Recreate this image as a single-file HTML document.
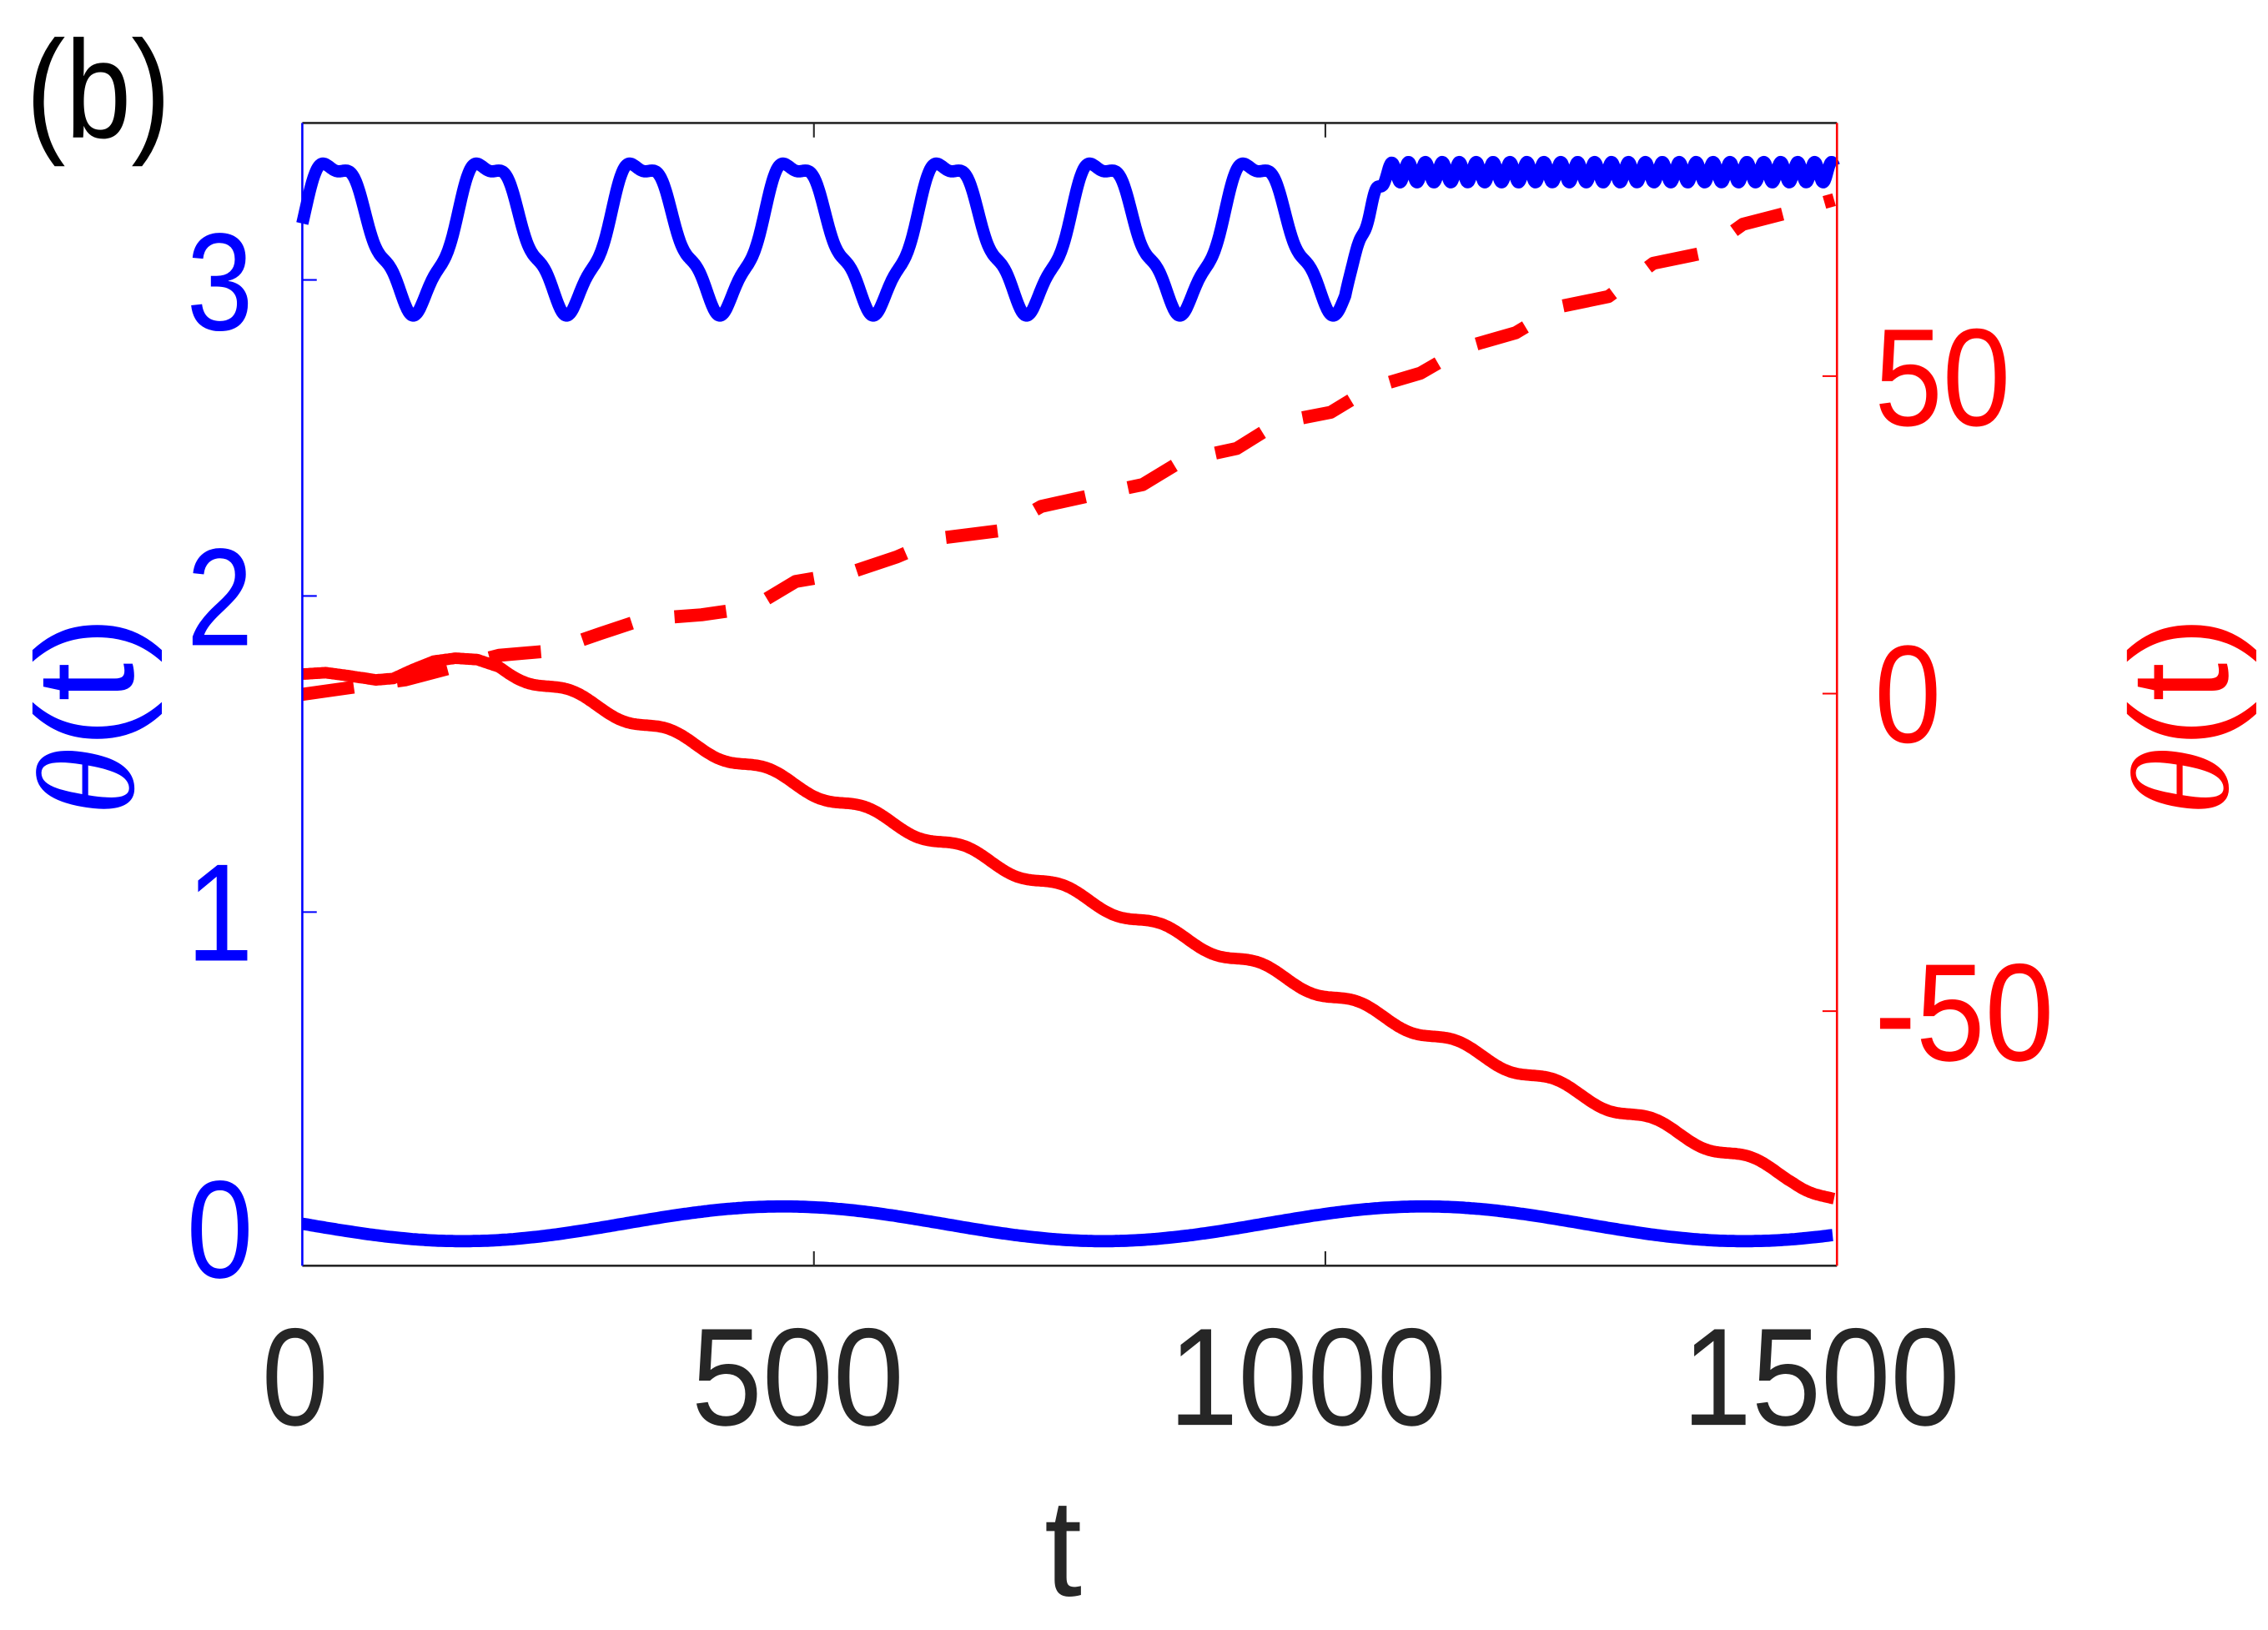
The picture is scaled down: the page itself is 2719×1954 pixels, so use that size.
<!DOCTYPE html>
<html><head><meta charset="utf-8"><style>
html,body{margin:0;padding:0;background:#fff;}
svg{display:block;}
text{font-family:"Liberation Sans",sans-serif;}
</style></head><body>
<svg id="s" width="2719" height="1954" viewBox="0 0 1568 1126.8" xmlns="http://www.w3.org/2000/svg">
<rect width="1568" height="1127" fill="#fff"/>
<g id="curves" fill="none" stroke-linejoin="round" stroke-linecap="butt"></g>
<line x1="209" y1="85" x2="1270" y2="85" stroke="#262626" stroke-width="1.5"/>
<line x1="209" y1="875" x2="1270" y2="875" stroke="#262626" stroke-width="1.5"/>
<line x1="209" y1="85" x2="209" y2="875" stroke="#0000ff" stroke-width="1.5"/>
<line x1="1270" y1="85" x2="1270" y2="875" stroke="#ff0000" stroke-width="1.5"/>
<g stroke="#262626" stroke-width="1.2">
<line x1="562.7" y1="875" x2="562.7" y2="865"/><line x1="916.3" y1="875" x2="916.3" y2="865"/>
<line x1="562.7" y1="85" x2="562.7" y2="95"/><line x1="916.3" y1="85" x2="916.3" y2="95"/>
</g>
<g stroke="#0000ff" stroke-width="1.2">
<line x1="209" y1="193.5" x2="219" y2="193.5"/><line x1="209" y1="412" x2="219" y2="412"/><line x1="209" y1="630.5" x2="219" y2="630.5"/><line x1="209" y1="849" x2="219" y2="849"/>
</g>
<g stroke="#ff0000" stroke-width="1.2">
<line x1="1260" y1="260" x2="1270" y2="260"/><line x1="1260" y1="479.5" x2="1270" y2="479.5"/><line x1="1260" y1="699" x2="1270" y2="699"/>
</g>
<g font-size="96" fill="#262626">
<text x="181" y="985" textLength="46" lengthAdjust="spacingAndGlyphs">0</text>
<text x="478" y="985" textLength="147" lengthAdjust="spacingAndGlyphs">500</text>
<text x="808" y="985" textLength="192" lengthAdjust="spacingAndGlyphs">1000</text>
<text x="1163" y="985" textLength="192" lengthAdjust="spacingAndGlyphs">1500</text>
<text x="722" y="1103" textLength="26" lengthAdjust="spacingAndGlyphs">t</text>
</g>
<g font-size="96" fill="#0000ff">
<text x="129" y="228" textLength="46" lengthAdjust="spacingAndGlyphs">3</text>
<text x="129" y="446" textLength="46" lengthAdjust="spacingAndGlyphs">2</text>
<text x="129" y="664" textLength="46" lengthAdjust="spacingAndGlyphs">1</text>
<text x="129" y="883" textLength="46" lengthAdjust="spacingAndGlyphs">0</text>
</g>
<g font-size="96" fill="#ff0000">
<text x="1296" y="294" textLength="94" lengthAdjust="spacingAndGlyphs">50</text>
<text x="1296" y="513" textLength="46" lengthAdjust="spacingAndGlyphs">0</text>
<text x="1296" y="733" textLength="124" lengthAdjust="spacingAndGlyphs">-50</text>
</g>
<text x="18" y="95" font-size="96" fill="#000" textLength="100" lengthAdjust="spacingAndGlyphs">(b)</text>
<text transform="translate(92,495) rotate(-90)" font-size="96" fill="#0000ff" text-anchor="middle"><tspan font-family="Liberation Serif" font-style="italic">θ</tspan>(t)</text>
<text transform="translate(1540,495) rotate(-90)" font-size="96" fill="#ff0000" text-anchor="middle"><tspan font-family="Liberation Serif" font-style="italic">θ</tspan>(t)</text>
</svg>
<script>
(function(){
var g=document.getElementById('curves');var NS='http://www.w3.org/2000/svg';
function add(d,c,w,dash){var p=document.createElementNS(NS,'path');p.setAttribute('d',d);p.setAttribute('stroke',c);p.setAttribute('stroke-width',w);if(dash)p.setAttribute('stroke-dasharray',dash);g.appendChild(p);}
function mk(f,a,b,st){var s='';for(var x=a;x<=b+1e-9;x+=st){s+=(s?'L':'M')+x.toFixed(1)+' '+f(x).toFixed(1);}return s;}
var pts=[[209,480],[280,470],[345,453],[380,450],[415,438],[445,428],[485,425],[520,420],[550,402],[590,395],[620,385],[650,372],[690,367],[720,350],[752,343],[790,335],[818,318],[855,310],[884,292],[920,285],[948,268],[982,258],[1013,240],[1048,230],[1078,212],[1112,205],[1143,182],[1177,175],[1205,155],[1240,146],[1268,138]];
var d='M'+pts[0][0]+' '+pts[0][1];for(var i=1;i<pts.length;i++){d+='L'+pts[i][0]+' '+pts[i][1];}
add(d,'#ff0000',9,'36 30');
var rp=[[209,466],[225,465],[240,467],[260,470],[272,469],[285,463],[300,457],[315,455],[330,456],[345,461]];
function red(x){
 if(x<=345){for(var i=1;i<rp.length;i++){if(x<=rp[i][0]){var a=rp[i-1],b=rp[i];return a[1]+(b[1]-a[1])*(x-a[0])/(b[0]-a[0]);}}}
 var base=461+(x-345)*(826-461)/(1268-345);return base+3.5*Math.sin(2*Math.PI*(x-345)/68)+(x>1240?(x-1240)*0.15:0);}
add(mk(red,209,1268,1),'#ff0000',8);
add(mk(function(x){return 846+12*Math.cos(2*Math.PI*(x-320)/443);},209,1268,2),'#0000ff',8.5);
function bt(x){
 var P=106,ph=2*Math.PI*(x-232)/P;
 var osc=162-50*Math.cos(ph)+6*Math.cos(4*ph)+3*Math.sin(2*ph);
 var fast=119+7*Math.sin(2*Math.PI*(x-965)/11.7);
 if(x<930)return osc; if(x>968)return fast;
 var w=(x-930)/38;return osc*(1-w)+fast*w;}
add(mk(bt,209,1268,0.5),'#0000ff',8.5);
})();
</script>
</body></html>
